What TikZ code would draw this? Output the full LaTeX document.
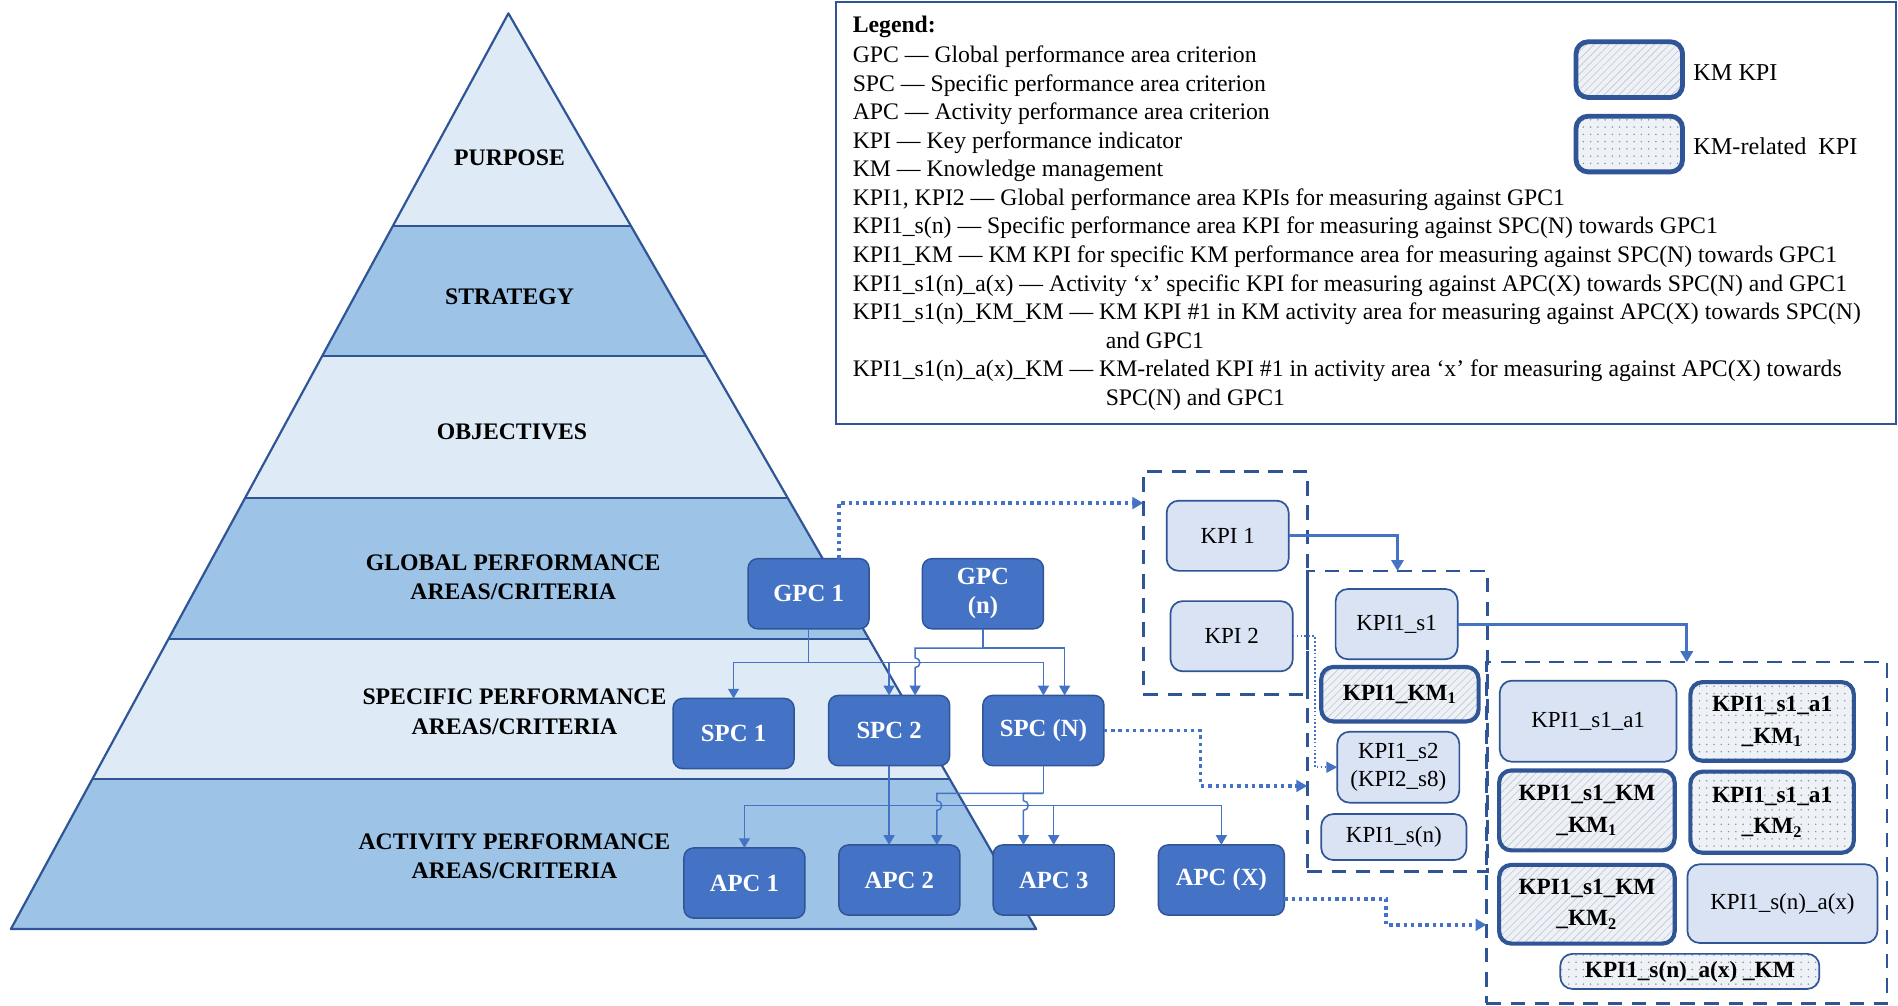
\documentclass[tikz,border=0pt]{standalone}
\usepackage{fontspec}
\setmainfont{Liberation Serif}
\usetikzlibrary{arrows.meta,calc,patterns.meta}

\definecolor{pyrlight}{HTML}{DEEBF7}
\definecolor{pyrmid}{HTML}{9DC3E6}
\definecolor{navy}{HTML}{2F5597}
\definecolor{boxblue}{HTML}{4472C4}
\definecolor{palebox}{HTML}{DAE3F3}
\definecolor{kmbg}{HTML}{EEF1F6}
\definecolor{hatchcol}{HTML}{BFC7D4}
\definecolor{dotcol}{HTML}{8995A8}

\begin{document}
\begin{tikzpicture}[x=0.5pt,y=-0.5pt,
  every node/.style={inner sep=0pt, outer sep=0pt},
  band/.style={draw=navy, line width=0.9pt, line join=round},
  tier/.style={font=\fontsize{9.8}{12}\selectfont\bfseries, align=center},
  dk/.style={draw=navy, line width=0.6pt, fill=boxblue, rounded corners=4pt,
    text=white, font=\fontsize{10.2}{12}\selectfont\bfseries, align=center,
    minimum width=50pt, minimum height=29pt},
  lt/.style={draw=navy, line width=0.7pt, fill=palebox, rounded corners=5pt,
    font=\fontsize{9.5}{11.5}\selectfont, align=center},
  kmhatch/.style={draw=navy, line width=1.7pt, rounded corners=5pt,
    preaction={fill=kmbg},
    pattern={Lines[angle=45,distance=2.2pt,line width=0.25pt]}, pattern color=hatchcol,
    font=\fontsize{9.6}{13}\selectfont\bfseries, align=center},
  kmdots/.style={draw=navy, line width=1.7pt, rounded corners=5pt,
    preaction={fill=kmbg},
    pattern={Dots[distance=3pt,radius=0.35pt]}, pattern color=dotcol,
    font=\fontsize{9.6}{13}\selectfont\bfseries, align=center},
  grp/.style={draw=navy, line width=1.1pt, dash pattern=on 6pt off 4pt},
  conn/.style={draw=boxblue, line width=0.6pt},
  link/.style={conn, -{Triangle[width=4.5pt,length=4pt]}},
  flow/.style={draw=boxblue, line width=1.2pt, -{Triangle[width=5pt,length=4.5pt]}},
  dotlink/.style={draw=boxblue, line width=1.4pt, dash pattern=on 1.4pt off 1.6pt,
    -{Triangle[width=4.8pt,length=4.5pt]}},
  thindot/.style={draw=boxblue, line width=0.7pt, dash pattern=on 0.7pt off 0.9pt,
    -{Triangle[width=4.5pt,length=4.5pt]}},
  legtext/.style={anchor=base west, font=\fontsize{9.8}{12}\selectfont}
]
\fill[white] (0,0) rectangle (1568,831);
\useasboundingbox (0,0) rectangle (1568,831);

% ---------- pyramid ----------
\coordinate (apex) at (420,11);
\coordinate (bl) at (9,767.5);
\coordinate (br) at (856,767.5);
\foreach \n/\t in {1/0.2325,2/0.3738,3/0.5297,4/0.6830,5/0.8362}{
  \coordinate (L\n) at ($(apex)!\t!(bl)$);
  \coordinate (R\n) at ($(apex)!\t!(br)$);
}
\fill[pyrlight] (apex) -- (R1) -- (L1) -- cycle;
\fill[pyrmid]   (L1) -- (R1) -- (R2) -- (L2) -- cycle;
\fill[pyrlight] (L2) -- (R2) -- (R3) -- (L3) -- cycle;
\fill[pyrmid]   (L3) -- (R3) -- (R4) -- (L4) -- cycle;
\fill[pyrlight] (L4) -- (R4) -- (R5) -- (L5) -- cycle;
\fill[pyrmid]   (L5) -- (R5) -- (br) -- (bl) -- cycle;
\foreach \n in {1,...,5} \draw[band] (L\n) -- (R\n);
\draw[band] (apex) -- (br) -- (bl) -- cycle;

\node[tier] (purpose)    at (421,130) {PURPOSE};
\node[tier] (strategy)   at (421,245) {STRATEGY};
\node[tier] (objectives) at (423,357) {OBJECTIVES};
\node[tier] (globalpa)   at (424,477) {GLOBAL PERFORMANCE\\AREAS/CRITERIA};
\node[tier] (specpa)     at (425,588) {SPECIFIC PERFORMANCE\\AREAS/CRITERIA};
\node[tier] (actpa)      at (425,707) {ACTIVITY PERFORMANCE\\AREAS/CRITERIA};

% ---------- legend ----------
\node[draw=navy, line width=0.8pt, fill=white, minimum width=437.5pt, minimum height=174pt]
  (legend) at (1128.5,176) {};
\node[legtext] (leg0)  at (704.5,27)  {\bfseries Legend:};
\node[legtext] (leg1)  at (704.5,51.7)  {GPC — Global performance area criterion};
\node[legtext] (leg2)  at (704.5,75.3)  {SPC — Specific performance area criterion};
\node[legtext] (leg3)  at (704.5,98.9)  {APC — Activity performance area criterion};
\node[legtext] (leg4)  at (704.5,122.5) {KPI — Key performance indicator};
\node[legtext] (leg5)  at (704.5,146.1) {KM — Knowledge management};
\node[legtext] (leg6)  at (704.5,169.7) {KPI1, KPI2 — Global performance area KPIs for measuring against GPC1};
\node[legtext] (leg7)  at (704.5,193.3) {KPI1\_s(n) — Specific performance area KPI for measuring against SPC(N) towards GPC1};
\node[legtext] (leg8)  at (704.5,216.9) {KPI1\_KM — KM KPI for specific KM performance area for measuring against SPC(N) towards GPC1};
\node[legtext] (leg9)  at (704.5,240.5) {KPI1\_s1(n)\_a(x) — Activity ‘x’ specific KPI for measuring against APC(X) towards SPC(N) and GPC1};
\node[legtext] (leg10) at (704.5,264.1) {KPI1\_s1(n)\_KM\_KM — KM KPI \#1 in KM activity area for measuring against APC(X) towards SPC(N)};
\node[legtext] (leg11) at (913.5,287.7) {and GPC1};
\node[legtext] (leg12) at (704.5,311.3) {KPI1\_s1(n)\_a(x)\_KM — KM-related KPI \#1 in activity area ‘x’ for measuring against APC(X) towards};
\node[legtext] (leg13) at (913.5,334.9) {SPC(N) and GPC1};

\node[kmhatch, line width=2pt, minimum width=44pt, minimum height=23pt] (swkm) at (1346,57.5) {};
\node[kmdots,  line width=2pt, minimum width=44pt, minimum height=23pt] (swrel) at (1346,119) {};
\node[anchor=west, font=\fontsize{10}{12}\selectfont] (swkmlab)  at (1399,60) {KM KPI};
\node[anchor=west, font=\fontsize{10}{12}\selectfont] (swrellab) at (1399,120.5) {KM-related\ \ KPI};

% ---------- criteria boxes ----------
\node[dk] (gpc1) at (668,490.5) {GPC 1};
\node[dk] (gpcn) at (812,490.5) {GPC\\(n)};
\node[dk] (spc1) at (606,606) {SPC 1};
\node[dk] (spc2) at (734.5,603.5) {SPC 2};
\node[dk] (spcn) at (862,603.5) {SPC (N)};
\node[dk] (apc1) at (615,729.5) {APC 1};
\node[dk] (apc2) at (743,727) {APC 2};
\node[dk] (apc3) at (870.5,727) {APC 3};
\node[dk, minimum width=52pt] (apcx) at (1009,727) {APC (X)};

% GPC 1 fan-out
\draw[conn] (gpc1.south) -- ++(0,28) coordinate (g1bus);
\draw[link] (g1bus) -| (spc1.north);
\draw[link] (g1bus) -| (spc2.north);
\draw[link] (g1bus) -| (spcn.north);
% GPC (n) fan-out, hopping over the GPC 1 line
\coordinate (s2b) at ([xshift=10.75pt]spc2.north);
\coordinate (snb) at ([xshift=8.75pt]spcn.north);
\draw[conn] (gpcn.south) -- ++(0,16) coordinate (gnbus);
\draw[link] (gnbus) -| ($(s2b |- g1bus)+(0,-4)$)
  arc[start angle=-90,end angle=90,radius=4] -- (s2b);
\draw[link] (gnbus) -| (snb);
% SPC 2 fan-out
\draw[link] (spc2.south) -- (spc2.south |- apc2.north);
\draw[conn] (spc2.south) -- ++(0,33) coordinate (s2bus);
\draw[link] (s2bus) -| (apc1.north);
\draw[link] (s2bus) -| (apc3.north);
\draw[link] (s2bus) -| (apcx.north);
% SPC (N) fan-out, hopping over the SPC 2 line
\coordinate (a2b) at ([xshift=15.5pt]apc2.north);
\coordinate (a3b) at ([xshift=-12.5pt]apc3.north);
\draw[conn] (spcn.south) -- ++(0,23) coordinate (snbus);
\draw[link] (snbus) -| ($(a2b |- s2bus)+(0,-4)$)
  arc[start angle=-90,end angle=90,radius=4] -- (a2b);
\draw[link] (snbus) -| ($(a3b |- s2bus)+(0,-4)$)
  arc[start angle=-90,end angle=90,radius=4] -- (a3b);

% ---------- KPI groups ----------
\node[grp, minimum width=67.75pt, minimum height=92.2pt]  (grpA) at (1012.25,481.8) {};
\node[grp, minimum width=74.5pt,  minimum height=124.2pt] (grpB) at (1154.5,595.9) {};
\node[grp, minimum width=165.5pt, minimum height=141pt]   (grpC) at (1393.5,688) {};

\node[lt, minimum width=50.4pt, minimum height=29pt] (kpi1) at (1014.2,442.6) {KPI 1};
\node[lt, minimum width=50.5pt, minimum height=29pt] (kpi2) at (1017.5,525.6) {KPI 2};

\node[lt, minimum width=50.4pt, minimum height=29pt] (kpis1) at (1153.8,515.6) {KPI1\_s1};
\node[kmhatch, minimum width=65pt, minimum height=22.5pt] (kpikm) at (1156.5,573.5) {KPI1\_KM\textsubscript{1}};
\node[lt, minimum width=50.4pt, minimum height=29.3pt] (kpis2) at (1155.2,633.8) {KPI1\_s2\\(KPI2\_s8)};
\node[lt, minimum width=60pt, minimum height=19pt] (kpisn) at (1151.5,691.5) {KPI1\_s(n)};

\node[lt, minimum width=73pt, minimum height=33.5pt] (ks1a1) at (1312,595.8) {KPI1\_s1\_a1};
\node[kmdots, minimum width=67.5pt, minimum height=32.5pt] (ks1a1km1) at (1464,596) {KPI1\_s1\_a1\\\_KM\textsubscript{1}};
\node[kmhatch, minimum width=72.5pt, minimum height=33pt] (ks1kmkm1) at (1311,669.5) {KPI1\_s1\_KM\\\_KM\textsubscript{1}};
\node[kmdots, minimum width=67.5pt, minimum height=33.5pt] (ks1a1km2) at (1464,671) {KPI1\_s1\_a1\\\_KM\textsubscript{2}};
\node[kmhatch, minimum width=72.5pt, minimum height=32.5pt] (ks1kmkm2) at (1311,747) {KPI1\_s1\_KM\\\_KM\textsubscript{2}};
\node[lt, minimum width=78.5pt, minimum height=32.5pt] (ksnax) at (1472.5,746.5) {KPI1\_s(n)\_a(x)};
\node[kmdots, line width=0.7pt, minimum width=107pt, minimum height=14.5pt] (ksnaxkm) at (1396,802.5) {KPI1\_s(n)\_a(x) \_KM};

% ---------- links between levels ----------
\draw[flow] (kpi1.east) -| (grpB.north);
\draw[flow] (kpis1.east) -| (grpC.north);
\coordinate (aIn) at ([yshift=-13pt]grpA.north west);
\draw[dotlink] ([xshift=12.5pt]gpc1.north) |- (aIn);
\coordinate (bIn) at ([yshift=-26.7pt]grpB.west);
\draw[dotlink] (spcn.east) -- ++(80,0) |- (bIn);
\coordinate (cIn) at ([yshift=-38pt]grpC.west);
\draw[dotlink] ([yshift=-7.8pt]apcx.east) -- ++(84,0) |- (cIn);
\coordinate (kx) at ($(kpis2.west)+(-18.4,0)$);
\draw[thindot] (kpi2.east) -| (kx) -- (kpis2.west);
\end{tikzpicture}
\end{document}
